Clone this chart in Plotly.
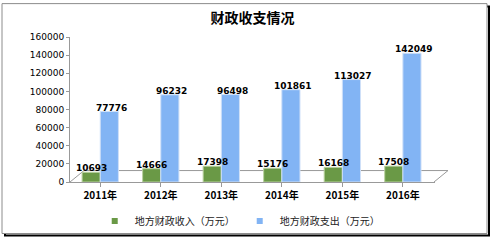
import plotly.graph_objects as go

years = ["2011年", "2012年", "2013年", "2014年", "2015年", "2016年"]
income = [10693, 14666, 17398, 15176, 16168, 17508]
expense = [77776, 96232, 96498, 101861, 113027, 142049]
y_ticks = [0, 20000, 40000, 60000, 80000, 100000, 120000, 140000, 160000]
names = ["地方财政收入（万元）", "地方财政支出（万元）"]

W, H = 491, 247
L, R, T, B = 70, 56, 37, 58
pw, ph = W - L - R, H - T - B

def px(x):
    return (x - L) / pw

def py(y):
    return (H - B - y) / ph

GREEN = "#6a9946"
BLUE = "#82b4f4"
bargap = 0.4
half = pw / len(years) * (1 - bargap) / 4  # pixel offset of each bar centre

fig = go.Figure()
annotations = []
for i, (vals, col, edge, nm) in enumerate([(income, GREEN, "#b9d19f", names[0]),
                                           (expense, BLUE, "#cfe0f8", names[1])]):
    fig.add_trace(go.Bar(
        x=years, y=vals, name=nm, showlegend=False,
        marker=dict(color=col, line=dict(color=edge, width=1)),
    ))
    fig.add_trace(go.Scatter(
        x=[None], y=[None], mode="markers", name=nm, showlegend=True,
        marker=dict(symbol="square", size=6, color=col),
    ))
    shift = -half if i == 0 else half + 2
    for yr, v in zip(years, vals):
        annotations.append(dict(
            x=yr, y=v, xref="x", yref="y", text=f"<b>{v}</b>", showarrow=False,
            xanchor="center", yanchor="bottom", xshift=shift, yshift=-3,
            font=dict(size=9, color="black", family="DejaVu Sans"),
        ))

shapes = [
    dict(type="rect", xref="paper", yref="paper",
         x0=px(5), x1=px(489), y0=py(245), y1=py(5),
         line=dict(color="black", width=2), fillcolor="rgba(0,0,0,0)", layer="below"),
    dict(type="rect", xref="paper", yref="paper",
         x0=px(2), x1=px(487), y0=py(243), y1=py(2),
         line=dict(color="#8c8c8c", width=1), fillcolor="white", layer="below"),
    dict(type="line", xref="paper", yref="paper", x0=px(70), y0=py(189), x1=px(84), y1=py(177),
         line=dict(color="#999999", width=1), layer="below"),
    dict(type="line", xref="paper", yref="paper", x0=px(84), y0=py(177), x1=px(448), y1=py(177),
         line=dict(color="#999999", width=1), layer="below"),
    dict(type="line", xref="paper", yref="paper", x0=px(448), y0=py(177), x1=px(434), y1=py(189),
         line=dict(color="#999999", width=1), layer="below"),
]

fig.update_layout(
    width=W, height=H,
    margin=dict(l=L, r=R, t=T, b=B),
    paper_bgcolor="white", plot_bgcolor="rgba(0,0,0,0)",
    barmode="group", bargap=bargap, bargroupgap=0.0,
    title=dict(text="<b>财政收支情况</b>", x=0.5, xref="paper", xanchor="center",
               y=1 - 18 / H, yanchor="middle",
               font=dict(size=14, color="black", family="Noto Sans CJK SC")),
    font=dict(family="Noto Sans CJK SC", color="black"),
    xaxis=dict(showgrid=False, showline=True, linecolor="#999999", linewidth=1,
               ticks="outside", ticklen=4, tickcolor="#999999",
               tickfont=dict(size=10, color="black", family="Noto Sans CJK SC"),
               tickprefix="<b>", ticksuffix="</b>"),
    yaxis=dict(range=[0, 160000], tickvals=y_ticks, ticktext=[str(v) for v in y_ticks],
               showgrid=False, showline=True, linecolor="#999999", linewidth=1,
               ticks="outside", ticklen=3, tickcolor="#999999", zeroline=False,
               tickfont=dict(size=9, color="black", family="DejaVu Sans")),
    legend=dict(orientation="h", x=0.465, xanchor="center", y=py(230), yanchor="middle",
                font=dict(size=10, color="#222222", family="Noto Sans CJK SC"),
                itemwidth=30, traceorder="normal", tracegroupgap=0,
                bgcolor="rgba(0,0,0,0)"),
    shapes=shapes,
    annotations=annotations,
    showlegend=True,
)

fig.write_html("out.html")
